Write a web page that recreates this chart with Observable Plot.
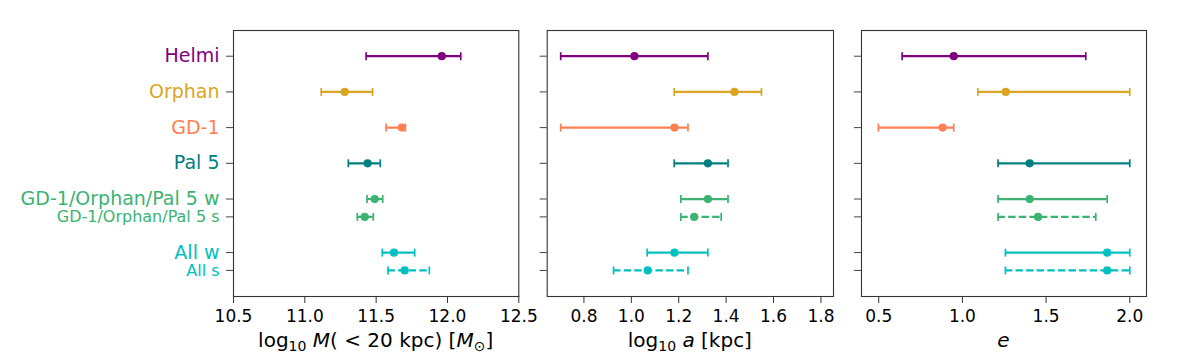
<!DOCTYPE html>
<html><head><meta charset="utf-8">
<script src="https://cdn.jsdelivr.net/npm/d3@7"></script>
<script src="https://cdn.jsdelivr.net/npm/@observablehq/plot@0.6"></script>
<style>
body{margin:0;background:#fff;font-family:"DejaVu Sans",sans-serif;}
#chart{display:flex;width:1184px;height:360px;background:#fff;}
svg{display:block;overflow:visible;}
</style></head><body><div id="chart"></div>
<script>
const names = ["Helmi","Orphan","GD-1","Pal 5","GD-1/Orphan/Pal 5 w","GD-1/Orphan/Pal 5 s","All w","All s"];
const rowPos = [0,1,2,3,4,4.5,5.5,6];
const colors = ["#800080","#daa520","#ff7f50","#008080","#3cb371","#3cb371","#00c0c0","#00c0c0"];
const labelSizes = [19,19,19,19,19,16,19,16];
const dashed = [false,false,false,false,false,true,false,true];

// log10 M(<20 kpc)
const massMid = [11.96,11.28,11.68,11.44,11.49,11.42,11.625,11.70];
const massLo  = [11.43,11.115,11.57,11.305,11.436,11.368,11.543,11.583];
const massHi  = [12.093,11.475,11.705,11.529,11.546,11.48,11.77,11.873];
// log10 a
const aMid = [1.013,1.435,1.182,1.323,1.323,1.265,1.182,1.069];
const aLo  = [0.702,1.181,0.702,1.181,1.209,1.209,1.067,0.925];
const aHi  = [1.323,1.549,1.239,1.408,1.408,1.379,1.323,1.239];
// e
const eMid = [0.948,1.259,0.882,1.402,1.402,1.452,1.865,1.865];
const eLo  = [0.640,1.092,0.498,1.213,1.213,1.213,1.257,1.257];
const eHi  = [1.737,2.0,0.948,2.0,1.865,1.797,2.0,2.0];

const massTicks = [10.5,11.0,11.5,12.0,12.5];
const aTicks = [0.8,1.0,1.2,1.4,1.6,1.8];
const eTicks = [0.5,1.0,1.5,2.0];

const capSymbol = {draw(ctx){ctx.moveTo(0,-4);ctx.lineTo(0,4);}};

function rows(mid, lo, hi){
  return names.map((n,i)=>({name:n,pos:rowPos[i],color:colors[i],size:labelSizes[i],dashed:dashed[i],mid:mid[i],lo:lo[i],hi:hi[i]}));
}

function panel({width, marginLeft, marginRight, domain, ticks, mid, lo, hi, showLabels, xlabel}){
  const data = rows(mid, lo, hi);
  const marks = [
    Plot.frame({stroke:"#333", strokeWidth:1.1}),
    Plot.axisX({ticks, tickSize:7, tickPadding:6, tickFormat:d3.format(".1f"), label:null, fontSize:17, stroke:"#333"}),
    Plot.axisY({ticks: rowPos, tickSize:7, tickFormat:()=>"", label:null, stroke:"#444"}),
    Plot.ruleY(data,{filter:d=>!d.dashed, y:"pos", x1:"lo", x2:"hi", stroke:"color", strokeWidth:2.2}),
    Plot.ruleY(data,{filter:d=>d.dashed, y:"pos", x1:"lo", x2:"hi", stroke:"color", strokeWidth:2.2, strokeDasharray:"7.4,3.2"}),
    Plot.dot(data,{x:"lo", y:"pos", symbol:capSymbol, stroke:"color", strokeWidth:1.7, fill:"none"}),
    Plot.dot(data,{x:"hi", y:"pos", symbol:capSymbol, stroke:"color", strokeWidth:1.7, fill:"none"}),
    Plot.dot(data,{x:"mid", y:"pos", r:4.1, fill:"color", stroke:"none"})
  ];
  if (showLabels) marks.push(Plot.text(data,{y:"pos", text:"name", frameAnchor:"left", dx:-14, textAnchor:"end", fill:"color", fontSize:"size"}));
  const svg = Plot.plot({
    width, height:360, marginTop:30, marginBottom:64, marginLeft, marginRight,
    style:{fontFamily:"'DejaVu Sans', sans-serif", fontSize:"17px", color:"#000", background:"none", overflow:"visible"},
    x:{domain, ticks},
    y:{domain:[-0.72,6.73], reverse:true},
    color:{type:"identity"},
    marks
  });
  const cx = marginLeft + (width - marginLeft - marginRight)/2;
  const t = d3.select(svg).append("text")
    .attr("x", cx).attr("y", 347).attr("text-anchor","middle")
    .attr("font-size", 20).attr("fill","#000").attr("font-family","'DejaVu Sans', sans-serif");
  xlabel(t);
  return svg;
}

const chart = document.getElementById("chart");
chart.append(panel({width:530, marginLeft:233, marginRight:11.7, domain:[10.5,12.5], ticks:massTicks,
  mid:massMid, lo:massLo, hi:massHi, showLabels:true,
  xlabel:t=>{
    t.append("tspan").text("log");
    t.append("tspan").attr("font-size",14).attr("dy",4).text("10");
    t.append("tspan").attr("dy",-4).text(" ");
    t.append("tspan").attr("font-style","italic").text("M");
    t.append("tspan").text("( < 20 kpc) [");
    t.append("tspan").attr("font-style","italic").text("M");
    t.append("tspan").attr("font-size",14).attr("dy",4).text("⊙");
    t.append("tspan").attr("dy",-4).text("]");
  }}));
chart.append(panel({width:315, marginLeft:16.7, marginRight:12, domain:[0.645,1.853], ticks:aTicks,
  mid:aMid, lo:aLo, hi:aHi, showLabels:false,
  xlabel:t=>{
    t.append("tspan").text("log");
    t.append("tspan").attr("font-size",14).attr("dy",4).text("10");
    t.append("tspan").attr("dy",-4).text(" ");
    t.append("tspan").attr("font-style","italic").text("a");
    t.append("tspan").text(" [kpc]");
  }}));
chart.append(panel({width:339, marginLeft:16, marginRight:38, domain:[0.397,2.1], ticks:eTicks,
  mid:eMid, lo:eLo, hi:eHi, showLabels:false,
  xlabel:t=>{
    t.append("tspan").attr("font-style","italic").text("e");
  }}));
</script></body></html>
